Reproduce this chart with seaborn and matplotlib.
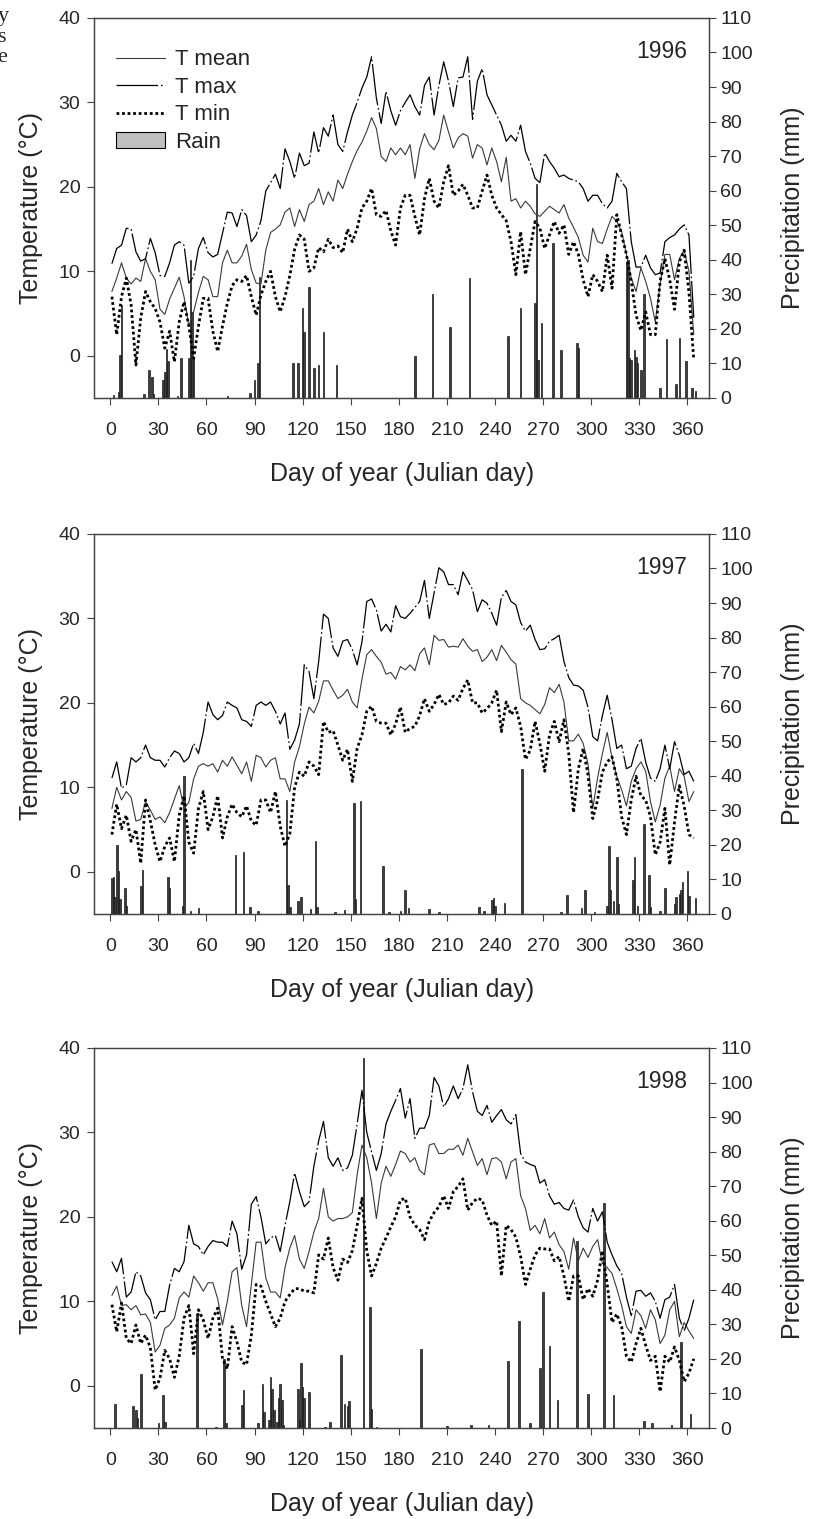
import matplotlib
matplotlib.use("Agg")
import matplotlib.pyplot as plt
from matplotlib.lines import Line2D
from matplotlib.patches import Patch
import seaborn as sns

# day grid (every 3rd day)
days = list(range(1, 365, 3))

# ---- 1996 ----
tmax_1996 = [
    10.9, 12.7, 13.1, 15.1, 15.0, 12.3, 11.2, 11.5, 13.9, 12.2,
    9.5, 9.4, 11.0, 13.1, 13.5, 13.1, 8.6, 9.4, 12.7, 14.0,
    12.2, 11.7, 12.0, 14.5, 17.0, 16.9, 15.3, 17.3, 16.6, 13.5,
    14.3, 16.0, 19.5, 20.5, 21.5, 19.8, 24.5, 23.0, 21.0, 24.0,
    22.5, 22.8, 26.5, 24.0, 27.0, 26.0, 28.5, 25.0, 24.2, 26.5,
    28.5, 30.0, 31.7, 33.0, 35.4, 30.5, 27.5, 31.3, 29.0, 27.3,
    29.0, 30.0, 30.9, 29.5, 28.5, 32.0, 33.0, 28.5, 32.0, 34.8,
    32.5, 29.5, 32.9, 33.0, 35.4, 28.0, 32.5, 34.0, 30.9, 29.7,
    28.5, 27.3, 25.4, 26.1, 25.4, 27.3, 24.2, 22.8, 21.0, 20.5,
    24.0, 23.0, 22.2, 21.2, 21.4, 21.0, 20.8, 20.6, 19.8, 18.3,
    19.0, 19.0, 18.0, 17.5, 18.3, 21.6, 20.6, 19.8, 13.5, 10.5,
    10.5, 11.9, 10.4, 9.6, 9.8, 13.5, 14.0, 14.3, 15.0, 15.5,
    14.3, 4.5]
tmean_1996 = [
    7.6, 9.2, 11.0, 9.2, 8.5, 9.2, 8.8, 11.5, 10.0, 9.0,
    5.5, 4.9, 6.7, 8.0, 9.3, 7.0, 3.5, 5.2, 7.5, 9.4,
    9.0, 7.0, 7.0, 11.0, 12.5, 11.0, 11.0, 11.8, 13.2, 10.2,
    8.6, 8.5, 12.5, 14.6, 15.0, 15.5, 17.0, 17.5, 15.3, 17.3,
    15.9, 17.9, 18.3, 19.8, 17.9, 19.4, 18.3, 20.8, 19.8, 21.5,
    23.0, 24.3, 25.3, 26.6, 28.2, 26.9, 23.6, 23.0, 24.6, 23.8,
    24.6, 23.8, 25.0, 21.0, 24.5, 26.3, 25.0, 24.4, 25.5, 28.5,
    26.5, 24.6, 25.8, 26.3, 26.0, 23.4, 25.0, 24.6, 22.6, 24.6,
    23.0, 20.6, 23.5, 18.3, 18.6, 17.5, 18.3, 17.7, 16.8, 16.5,
    17.1, 17.7, 17.3, 16.9, 17.9, 16.3, 15.2, 14.0, 11.9, 11.1,
    15.1, 13.5, 13.3, 15.0, 16.5, 15.9, 14.7, 12.0, 9.2, 7.6,
    10.4, 8.8, 6.8, 4.0, 8.5, 12.0, 12.0, 9.0, 11.5, 12.5,
    10.0, 2.5]
tmin_1996 = [
    7.0, 2.5, 7.0, 9.2, 6.0, -1.1, 4.5, 7.6, 6.4, 5.6,
    4.0, 0.9, 2.9, -0.7, 4.0, 6.4, 3.5, -0.3, 3.5, 6.8,
    6.8, 2.9, 0.5, 3.5, 6.2, 8.3, 9.0, 8.8, 9.5, 7.0,
    4.8, 7.2, 8.8, 10.0, 7.0, 5.2, 7.0, 9.5, 12.6, 14.3,
    13.8, 10.0, 10.4, 12.8, 12.3, 13.8, 12.8, 13.0, 12.2, 15.0,
    13.5, 15.1, 17.5, 18.3, 19.8, 16.7, 16.5, 17.2, 14.8, 13.1,
    17.5, 19.0, 19.0, 16.5, 14.3, 18.6, 21.0, 18.3, 17.5, 20.6,
    22.5, 19.0, 19.5, 20.3, 19.0, 17.5, 17.5, 19.5, 21.4, 19.0,
    17.5, 16.7, 16.0, 13.5, 9.6, 14.7, 9.6, 12.7, 15.9, 15.1,
    12.7, 14.3, 15.9, 14.5, 15.5, 12.0, 13.5, 12.0, 9.0, 7.0,
    9.6, 8.8, 7.6, 11.9, 8.0, 16.7, 14.3, 12.0, 8.8, 4.8,
    3.0, 5.2, 2.5, 2.5, 8.8, 11.5, 9.0, 5.5, 11.1, 12.5,
    7.5, -0.5]
rain_days_1996 = [2, 5, 6, 7, 21, 24, 26, 27, 33, 34, 35, 36, 42, 44, 49, 50, 51, 52,
                  73, 87, 90, 92, 93, 114, 117, 120, 121, 124, 127, 130, 133, 141,
                  190, 201, 212, 224, 248, 256, 265, 266, 267, 269, 276, 281, 291, 292,
                  322, 323, 324, 325, 327, 328, 329, 331, 333, 343, 347, 353, 355, 359,
                  363, 365]
rain_1996 = [0.8, 1.6, 12.5, 27, 1.2, 8, 6, 1.2, 5.3, 7.4, 14.2, 10.6, 0.5, 11.6, 11.6, 40, 25, 12,
             0.7, 1.5, 5.3, 10, 35, 10, 10, 26, 19, 32, 8.7, 9.6, 19, 9.6,
             12.2, 30, 20.5, 34.7, 18, 26, 27.5, 62, 11, 21.7, 45, 14, 16, 14.5,
             39.5, 40, 11.6, 11, 14, 12, 10, 8, 30, 2.9, 17, 4, 17.5, 10.6,
             3, 2]

# ---- 1997 ----
tmax_1997 = [
    11.1, 13.0, 9.9, 10.3, 13.5, 13.0, 13.5, 15.0, 13.5, 13.2,
    13.2, 12.4, 13.5, 14.3, 14.0, 13.0, 13.5, 15.2, 14.0, 16.5,
    20.1, 18.6, 18.0, 18.5, 20.1, 19.7, 19.4, 18.0, 17.8, 17.2,
    19.7, 20.1, 19.7, 20.1, 19.0, 17.5, 18.8, 14.5, 15.6, 17.5,
    24.5, 23.7, 20.5, 24.9, 30.5, 30.0, 26.5, 25.5, 27.3, 27.5,
    26.3, 24.5, 27.2, 32.0, 32.3, 31.0, 28.5, 29.3, 28.4, 31.5,
    30.2, 30.0, 30.6, 31.3, 32.0, 34.5, 30.0, 33.0, 36.0, 35.5,
    34.0, 34.0, 32.8, 35.5, 34.5, 33.4, 30.8, 32.2, 31.8, 30.6,
    29.2, 32.5, 33.3, 32.0, 31.6, 29.5, 28.5, 29.2, 27.5, 26.3,
    26.4, 27.3, 27.6, 28.0, 24.9, 23.0, 22.1, 22.0, 21.5, 19.5,
    16.0, 15.5, 18.5, 20.9, 18.0, 14.6, 15.0, 12.2, 12.5, 14.6,
    15.8, 13.0, 11.1, 10.7, 12.2, 15.0, 12.2, 15.4, 13.8, 11.5,
    11.9, 10.7]
tmean_1997 = [
    7.5, 10.0, 8.5, 9.5, 8.8, 6.0, 6.2, 8.3, 7.3, 6.2,
    6.5, 5.8, 7.0, 8.6, 10.2, 7.5, 8.2, 11.0, 12.5, 12.8,
    12.5, 12.8, 11.8, 13.2, 12.5, 13.6, 12.6, 11.6, 13.0, 10.7,
    13.8, 13.5, 12.4, 13.2, 13.5, 11.0, 11.0, 9.5, 13.0, 14.8,
    17.5, 19.5, 18.8, 20.2, 22.6, 22.6, 21.5, 20.5, 20.9, 21.6,
    20.1, 19.4, 22.8, 25.7, 26.3, 25.5, 24.8, 23.4, 23.6, 22.8,
    24.3, 23.9, 24.5, 23.8, 25.8, 26.5, 24.5, 28.0, 27.4, 27.5,
    26.6, 26.7, 26.6, 27.6, 26.7, 26.1, 26.3, 24.9, 25.4, 26.3,
    25.0, 26.8, 26.0, 25.1, 24.6, 20.5, 20.0, 19.7, 19.2, 18.7,
    19.8, 21.8, 21.2, 22.2, 20.1, 15.5, 15.5, 16.3, 15.2, 12.8,
    7.5, 11.1, 14.0, 16.5, 13.5, 11.3, 9.7, 7.8, 10.7, 12.2,
    13.0, 11.9, 8.3, 5.9, 7.9, 11.1, 12.5, 9.5, 12.2, 11.3,
    8.3, 9.5]
tmin_1997 = [
    4.4, 8.0, 5.1, 6.7, 3.6, 5.0, 1.0, 8.5, 6.0, 3.2,
    1.2, 3.0, 4.0, 1.2, 6.7, 9.0, 3.5, 2.2, 7.5, 9.5,
    5.0, 6.5, 9.0, 4.0, 6.5, 8.0, 7.0, 6.5, 7.8, 6.0,
    5.5, 8.5, 8.5, 7.0, 9.5, 5.4, 3.0, 4.5, 10.0, 11.8,
    11.3, 13.0, 12.5, 11.5, 17.8, 16.5, 16.7, 15.0, 13.2, 14.5,
    10.7, 14.6, 16.2, 19.0, 19.6, 17.8, 17.6, 17.6, 16.2, 17.5,
    19.5, 16.5, 17.0, 17.2, 18.5, 20.5, 19.0, 19.8, 21.0, 19.8,
    20.0, 20.8, 20.3, 21.7, 22.7, 20.0, 20.0, 18.8, 19.3, 20.0,
    21.5, 16.6, 20.1, 18.6, 19.4, 17.2, 13.3, 14.4, 17.8, 15.2,
    11.9, 16.2, 17.8, 15.4, 18.0, 14.0, 7.0, 12.2, 14.6, 11.5,
    6.3, 8.5, 11.8, 13.0, 13.6, 11.0, 6.5, 4.4, 8.5, 11.3,
    9.0, 8.5, 6.5, 2.0, 3.5, 7.5, 0.8, 5.9, 10.2, 7.8,
    4.4, 4.0]
rain_days_1997 = [1, 2, 3, 4, 5, 6, 9, 10, 19, 20, 36, 37, 45, 46, 50, 55, 78, 83, 87, 92,
                  110, 111, 112, 117, 119, 125, 128, 129, 140, 146, 152, 153, 156, 170,
                  174, 181, 184, 186, 199, 205, 230, 233, 238, 239, 240, 246, 257, 281,
                  285, 294, 296, 302, 310, 311, 312, 314, 316, 317, 326, 327, 329, 333,
                  336, 337, 343, 346, 352, 353, 355, 356, 357, 360, 361, 365]
rain_1997 = [10.4, 10.8, 4.8, 20, 12.5, 4.3, 7.5, 2.4, 8, 12.7, 10.6, 7.5, 2.4, 40, 1, 1.6,
             17, 18, 2, 1, 33, 8.5, 2, 3.7, 5, 1.5, 21, 2, 0.7, 1.2, 32, 4.3, 32.6, 14,
             0.5, 1, 7, 1.6, 1.5, 0.7, 2, 1, 4, 4.6, 2.4, 3.3, 42, 0.5,
             5.6, 1.7, 7, 0.5, 2.4, 19.6, 6.8, 3.7, 16.6, 3, 9.8, 16.6, 2.4, 26,
             11.4, 2, 1, 7.5, 3, 4.8, 5.8, 6.8, 9.2, 12.4, 5.3, 4.6]

# ---- 1998 ----
tmax_1998 = [
    14.7, 13.5, 15.1, 10.5, 11.1, 13.5, 13.0, 11.0, 10.2, 7.8,
    8.8, 8.8, 11.9, 13.9, 13.5, 14.7, 19.0, 16.8, 16.5, 15.5,
    16.5, 17.2, 17.0, 17.0, 16.5, 19.5, 18.0, 13.8, 15.5, 21.5,
    22.4, 20.0, 16.8, 17.5, 17.8, 15.9, 19.0, 21.8, 25.2, 23.0,
    21.2, 21.8, 26.0, 29.0, 31.3, 27.0, 26.0, 27.0, 25.5, 25.8,
    27.3, 31.0, 35.0, 30.0, 27.7, 25.5, 27.5, 31.0, 32.5, 33.8,
    35.2, 31.7, 34.0, 29.3, 30.5, 30.5, 32.0, 36.5, 35.5, 33.0,
    34.0, 35.5, 34.0, 35.2, 38.0, 34.8, 32.5, 32.0, 33.2, 31.2,
    32.0, 32.7, 31.5, 31.0, 32.1, 27.5, 26.5, 26.2, 26.0, 24.0,
    24.4, 22.5, 21.5, 21.7, 21.0, 20.8, 22.0, 20.0, 18.7, 18.2,
    21.0, 19.5, 20.6, 17.0, 15.5, 14.2, 13.3, 10.5, 8.3, 11.2,
    11.3, 10.6, 11.0, 10.0, 8.0, 10.2, 10.5, 12.0, 8.0, 6.5,
    8.0, 10.2]
tmean_1998 = [
    10.7, 11.8, 9.5, 9.6, 9.0, 9.5, 8.4, 8.5, 7.5, 4.0,
    4.8, 6.8, 7.2, 8.0, 10.4, 11.1, 10.5, 13.0, 12.2, 11.2,
    12.2, 12.2, 10.3, 7.2, 10.0, 13.5, 14.0, 9.5, 7.0, 12.0,
    17.0, 17.0, 12.8, 11.1, 11.1, 10.4, 14.0, 16.3, 17.8, 15.0,
    13.9, 15.9, 18.2, 19.8, 23.4, 20.0, 19.5, 19.8, 19.8, 20.0,
    20.5, 25.0, 28.5, 27.0, 24.0, 19.8, 24.0, 26.0, 24.8, 26.2,
    27.8, 27.5, 26.5, 27.0, 25.5, 25.0, 28.5, 28.7, 27.5, 27.5,
    28.0, 28.0, 28.5, 27.3, 29.3, 27.7, 26.1, 26.9, 25.0, 26.9,
    27.0, 26.5, 24.5, 26.5, 26.9, 22.5, 21.0, 18.4, 19.0, 18.0,
    19.8, 17.5, 18.2, 16.7, 15.9, 13.8, 17.5, 14.8, 16.3, 15.2,
    16.5, 17.3, 14.5, 14.0, 13.3, 11.5, 9.5, 7.0, 6.2, 9.0,
    8.3, 6.8, 9.0, 7.8, 5.0, 6.0, 9.0, 10.0, 5.8, 7.5,
    6.5, 5.6]
tmin_1998 = [
    9.6, 6.4, 9.8, 5.6, 5.0, 7.2, 5.0, 6.0, 4.5, -0.5,
    0.9, 4.2, 3.2, 1.0, 3.5, 8.0, 9.5, 3.8, 9.0, 7.8,
    5.6, 8.0, 9.2, 3.2, 2.0, 7.0, 5.2, 2.8, 2.5, 6.0,
    12.0, 11.8, 10.0, 8.5, 7.0, 8.0, 10.0, 10.8, 11.5, 11.5,
    11.2, 11.2, 11.0, 15.5, 15.0, 17.5, 14.0, 12.5, 15.0, 14.6,
    16.0, 19.0, 22.2, 16.0, 13.0, 14.5, 16.3, 17.5, 18.8, 20.0,
    22.0, 22.2, 20.0, 19.0, 18.5, 17.3, 19.5, 20.5, 21.2, 22.5,
    21.0, 23.0, 23.6, 24.5, 20.8, 21.7, 22.2, 22.0, 20.2, 19.0,
    19.5, 13.0, 19.0, 18.5, 17.6, 15.3, 12.0, 13.8, 15.5, 16.3,
    16.2, 16.2, 14.8, 15.3, 13.0, 10.0, 13.0, 13.0, 10.2, 11.5,
    10.6, 12.5, 16.0, 12.0, 7.5, 8.5, 7.0, 3.5, 2.8, 5.0,
    6.8, 4.8, 3.0, 3.5, -0.7, 3.5, 2.8, 4.6, 3.0, 0.5,
    1.5, 3.2]
rain_days_1998 = [3, 14, 16, 17, 19, 30, 33, 34, 54, 66, 71, 72, 82, 83, 92, 95, 96, 99, 100,
                  101, 102, 104, 105, 106, 107, 108, 117, 118, 119, 120, 121, 124, 134,
                  137, 144, 146, 148, 149, 158, 162, 163, 166, 194, 210, 225, 236, 248,
                  255, 262, 268, 270, 274, 279, 291, 298, 308, 314, 333, 338, 350, 356, 362]
rain_1998 = [6.9, 6.5, 5.3, 3, 15.7, 1.5, 9.5, 1.7, 33, 0.3, 20, 1.5, 6.6, 11, 1.5, 12.8, 4.6,
             2.2, 14.8, 11.4, 5.3, 1.7, 8.8, 12.6, 8, 1, 11.4, 2.2, 18.8, 12, 8.8, 10.4, 0.3,
             1.7, 21, 6.9, 6.3, 7.7, 107, 35, 5.6, 0.3, 23, 0.5, 1, 0.8, 19.4,
             31, 1.5, 17.4, 39.4, 23.7, 8, 54, 9.8, 65, 9.5, 2, 1.5, 1, 25, 4]

years = ["1996", "1997", "1998"]
tmax = [tmax_1996, tmax_1997, tmax_1998]
tmean = [tmean_1996, tmean_1997, tmean_1998]
tmin = [tmin_1996, tmin_1997, tmin_1998]
rain_days = [rain_days_1996, rain_days_1997, rain_days_1998]
rain = [rain_1996, rain_1997, rain_1998]

sns.set_theme(style="ticks")
plt.rcParams["font.family"] = ["Liberation Sans", "DejaVu Sans"]
plt.rcParams["lines.scale_dashes"] = False

SPINE = "#444444"
MAX_LS = (0, (30, 2, 1.2, 2))
MIN_LS = (0, (2.0, 2.0))

fig = plt.figure(figsize=(8.14, 15.19), dpi=100)
bottoms = [0.7380, 0.3983, 0.0599]

for i, year in enumerate(years):
    ax = fig.add_axes([0.1158, bottoms[i], 0.7552, 0.2502])
    ax2 = ax.twinx()

    # rain bars on the right axis
    ax2.bar(rain_days[i], rain[i], width=1.0, color="#3c3c3c",
            edgecolor="#1a1a1a", linewidth=0.5)

    sns.lineplot(x=days, y=tmean[i], ax=ax, color="#3a3a3a", linewidth=0.8,
                 estimator=None, sort=False)
    sns.lineplot(x=days, y=tmax[i], ax=ax, color="black", linewidth=0.9,
                 linestyle=MAX_LS, estimator=None, sort=False)
    sns.lineplot(x=days, y=tmin[i], ax=ax, color="black", linewidth=2.0,
                 linestyle=MIN_LS, estimator=None, sort=False)

    # temperature lines above the bars
    ax.set_zorder(ax2.get_zorder() + 1)
    ax.patch.set_visible(False)

    ax.set_xlim(-10, 373.5)
    ax.set_ylim(-5, 40)
    ax2.set_ylim(0, 110)
    ax.set_xticks(range(0, 361, 30))
    ax.set_yticks(range(0, 41, 10))
    ax2.set_yticks(range(0, 111, 10))

    for a in (ax, ax2):
        for s in a.spines.values():
            s.set_visible(True)
            s.set_color(SPINE)
            s.set_linewidth(0.9)
    ax.tick_params(axis="x", direction="out", length=5, width=0.8,
                   color=SPINE, labelsize=14, pad=12.5, top=False)
    ax.tick_params(axis="y", direction="out", length=5, width=0.8,
                   color=SPINE, labelsize=14, pad=5, right=False)
    ax2.tick_params(axis="y", direction="out", length=5, width=0.8,
                    color=SPINE, labelsize=14, pad=3)

    ax.set_xlabel("Day of year (Julian day)", fontsize=18, labelpad=16.5)
    ax.set_ylabel("Temperature (°C)", fontsize=18, labelpad=11.5)
    ax2.set_ylabel("Precipitation (mm)", fontsize=18, labelpad=20)

    ax.text(0.964, 0.911, year, transform=ax.transAxes, ha="right",
            va="center", fontsize=16.5)

    if i == 0:
        handles = [
            Line2D([], [], color="#3a3a3a", linewidth=0.8),
            Line2D([], [], color="black", linewidth=0.9, linestyle=MAX_LS),
            Line2D([], [], color="black", linewidth=2.0, linestyle=MIN_LS),
            Patch(facecolor="#c0c0c0", edgecolor="black", linewidth=0.8),
        ]
        ax.legend(handles, ["T mean", "T max", "T min", "Rain"],
                  loc="upper left", bbox_to_anchor=(0.036, 0.917),
                  frameon=False, fontsize=16, handlelength=2.2,
                  handletextpad=0.44, labelspacing=0.29,
                  borderpad=0, borderaxespad=0)

# fragments of the neighbouring text column, cut by the page edge
for txt, ypix in [("y", 17), ("s", 38), ("e", 58)]:
    fig.text(-0.003, 1 - ypix / 1519, txt, ha="left", va="center",
             fontsize=16, family=["Liberation Serif", "DejaVu Serif"])

fig.savefig("out.png", dpi=100)
